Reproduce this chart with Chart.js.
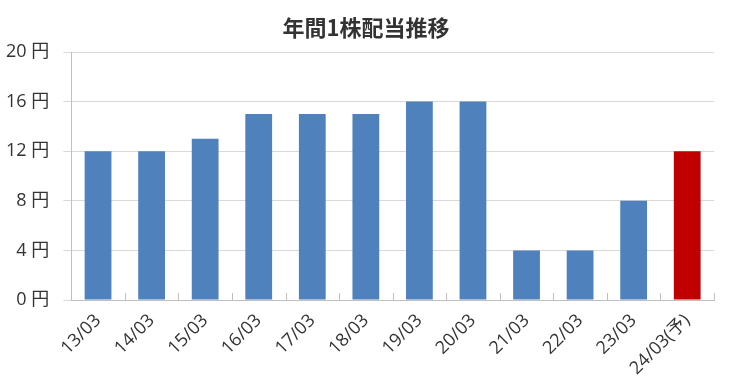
<!DOCTYPE html>
<html>
<head>
<meta charset="utf-8">
<script src="https://cdn.jsdelivr.net/npm/chart.js@4"></script>
<style>
  html, body { margin: 0; padding: 0; background: #fff; }
  #wrap { width: 732px; height: 387px; }
</style>
</head>
<body>
<div id="wrap"><canvas id="divChart"></canvas></div>
<script>
// Data
const chartTitle = '年間1株配当推移';
const categories = ['13/03', '14/03', '15/03', '16/03', '17/03', '18/03', '19/03', '20/03', '21/03', '22/03', '23/03', '24/03(予)'];
const dividends = [12, 12, 13, 15, 15, 15, 16, 16, 4, 4, 8, 12];
const barColors = ['#4f81bd', '#4f81bd', '#4f81bd', '#4f81bd', '#4f81bd', '#4f81bd', '#4f81bd', '#4f81bd', '#4f81bd', '#4f81bd', '#4f81bd', '#c00000'];
const yTicks = [0, 4, 8, 12, 16, 20];

const FONT = '"Noto Sans CJK JP", "Noto Sans", sans-serif';
const LABEL_FONT = '"Open Sans", "Noto Sans CJK JP", sans-serif';

// small tick marks between categories, drawn upward from the x axis
const innerTicks = {
    id: 'innerTicks',
    afterDatasetsDraw(chart) {
        const { ctx, scales: { x, y } } = chart;
        const base = y.getPixelForValue(0);
        ctx.save();
        ctx.strokeStyle = '#bfbfbf';
        ctx.lineWidth = 1;
        for (let i = 0; i <= categories.length; i++) {
            const px = Math.round(x.getPixelForValue(i - 0.5)) + 0.5;
            ctx.beginPath();
            ctx.moveTo(px, base);
            ctx.lineTo(px, base - 7);
            ctx.stroke();
        }
        ctx.restore();
    }
};

// title centred on the whole canvas (the built-in one shifts with the negative padding)
const centredTitle = {
    id: 'centredTitle',
    afterDraw(chart) {
        const { ctx } = chart;
        ctx.save();
        ctx.fillStyle = '#333333';
        ctx.font = 'bold 22px ' + FONT;
        ctx.textAlign = 'center';
        ctx.textBaseline = 'middle';
        ctx.fillText(chartTitle, chart.width / 2, 28);
        ctx.restore();
    }
};

new Chart(document.getElementById('divChart'), {
    type: 'bar',
    data: {
        labels: categories,
        datasets: [{
            data: dividends,
            backgroundColor: barColors,
            barPercentage: 0.5,
            categoryPercentage: 1
        }]
    },
    options: {
        responsive: true,
        maintainAspectRatio: false,
        animation: false,
        // negative left padding: the first rotated label overhangs into the y label column
        layout: { padding: { top: 52, right: 18, left: -8, bottom: 0 } },
        plugins: {
            legend: { display: false },
            tooltip: { enabled: false },
            title: { display: false }
        },
        scales: {
            y: {
                min: 0,
                max: 20,
                afterBuildTicks: (axis) => { axis.ticks = yTicks.map(v => ({ value: v })); },
                grid: { color: '#d9d9d9', tickLength: 8, tickColor: '#d9d9d9' },
                border: { color: '#bfbfbf' },
                ticks: {
                    padding: 14,
                    color: '#333333',
                    font: { family: LABEL_FONT, size: 18 },
                    callback: (v) => v + ' 円'
                }
            },
            x: {
                afterFit: (axis) => { axis.height = 87; },
                grid: { display: false },
                border: { color: '#bfbfbf' },
                ticks: {
                    maxRotation: 45,
                    minRotation: 45,
                    padding: 2,
                    color: '#333333',
                    font: { family: LABEL_FONT, size: 18 }
                }
            }
        }
    },
    plugins: [innerTicks, centredTitle]
});
</script>
</body>
</html>
